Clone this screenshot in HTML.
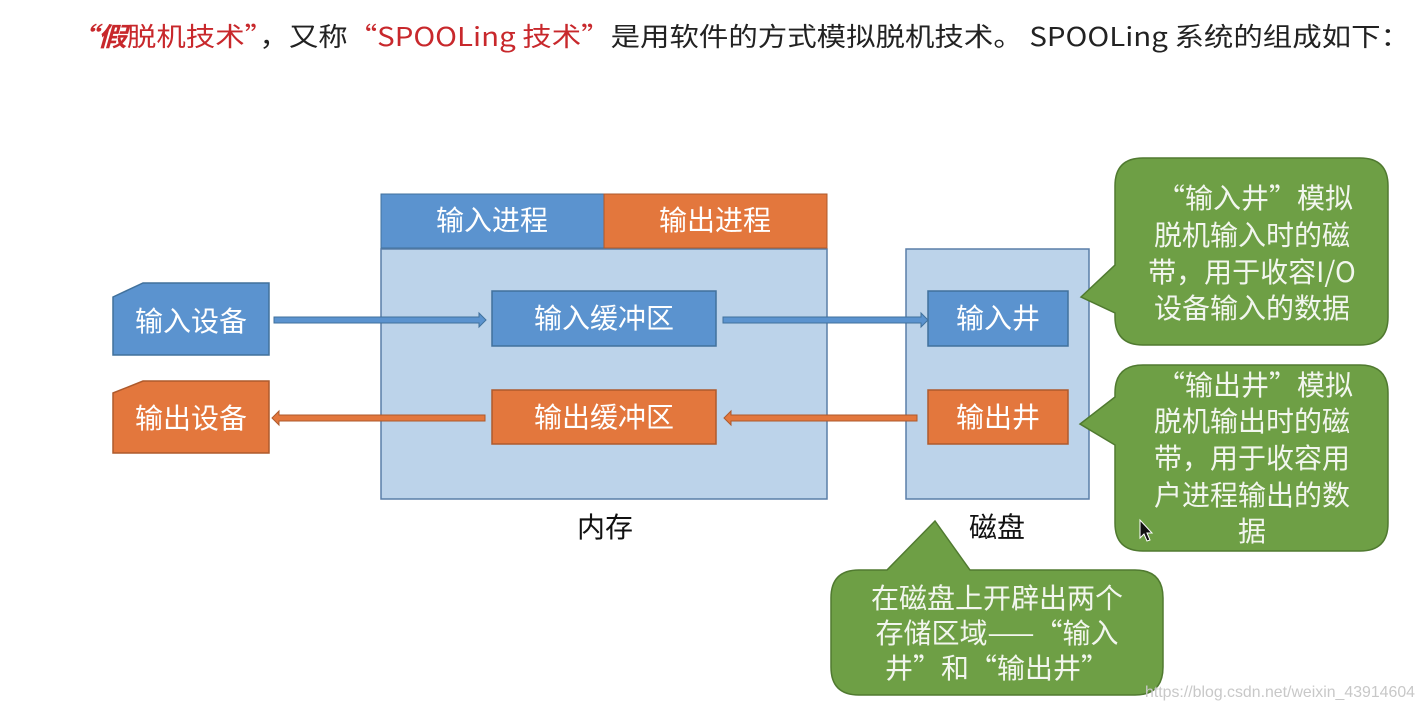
<!DOCTYPE html>
<html><head><meta charset="utf-8"><style>
html,body{margin:0;padding:0;background:#fff;width:1426px;height:712px;overflow:hidden}
svg{display:block}
text{font-family:"Liberation Sans","Noto Sans CJK SC",sans-serif}
.cjk, .cjk text{font-family:"Noto Sans CJK SC","Liberation Sans",sans-serif}
</style></head><body>
<svg width="1426" height="712" viewBox="0 0 1426 712">
<text class="cjk" x="68" y="46" font-size="26" fill="#222" textLength="1342" lengthAdjust="spacingAndGlyphs"><tspan fill="#c8282c" font-style="italic" font-weight="bold">“假</tspan><tspan fill="#c8282c">脱机技术”</tspan>，又称<tspan fill="#c8282c">“SPOOLing 技术”</tspan>是用软件的方式模拟脱机技术。 SPOOLing 系统的组成如下：</text>

<!-- devices -->
<polygon points="113,297 143,283 269,283 269,355 113,355" fill="#5b93cf" stroke="#41719c" stroke-width="1.5"/>
<text x="191" y="331" font-size="28" fill="#fff" text-anchor="middle">输入设备</text>
<polygon points="113,393 143,381 269,381 269,453 113,453" fill="#e3773d" stroke="#ae5a2c" stroke-width="1.5"/>
<text x="191" y="428" font-size="28" fill="#fff" text-anchor="middle">输出设备</text>

<!-- memory -->
<rect x="381" y="249" width="446" height="250" fill="#bcd3ea" stroke="#5a7ea8" stroke-width="1.5"/>
<rect x="381" y="194" width="223" height="54" fill="#5b93cf" stroke="#41719c" stroke-width="1"/>
<rect x="604" y="194" width="223" height="54" fill="#e3773d" stroke="#ae5a2c" stroke-width="1"/>
<text x="492" y="230" font-size="28" fill="#fff" text-anchor="middle">输入进程</text>
<text x="715" y="230" font-size="28" fill="#fff" text-anchor="middle">输出进程</text>
<rect x="492" y="291" width="224" height="55" fill="#5b93cf" stroke="#41719c" stroke-width="1.5"/>
<text x="604" y="328" font-size="28" fill="#fff" text-anchor="middle">输入缓冲区</text>
<rect x="492" y="390" width="224" height="54" fill="#e3773d" stroke="#ae5a2c" stroke-width="1.5"/>
<text x="604" y="427" font-size="28" fill="#fff" text-anchor="middle">输出缓冲区</text>
<text x="605" y="537" font-size="28" fill="#111" text-anchor="middle">内存</text>

<!-- disk -->
<rect x="906" y="249" width="183" height="250" fill="#bcd3ea" stroke="#5a7ea8" stroke-width="1.5"/>
<rect x="928" y="291" width="140" height="55" fill="#5b93cf" stroke="#41719c" stroke-width="1.5"/>
<text x="998" y="328" font-size="28" fill="#fff" text-anchor="middle">输入井</text>
<rect x="928" y="390" width="140" height="54" fill="#e3773d" stroke="#ae5a2c" stroke-width="1.5"/>
<text x="998" y="427" font-size="28" fill="#fff" text-anchor="middle">输出井</text>
<text x="997" y="537" font-size="28" fill="#111" text-anchor="middle">磁盘</text>

<!-- arrows -->
<polygon points="274,317 479,317 479,313 486,320 479,327 479,323 274,323" fill="#5b93cf" stroke="#41719c" stroke-width="1"/>
<polygon points="723,317 921,317 921,313 928,320 921,327 921,323 723,323" fill="#5b93cf" stroke="#41719c" stroke-width="1"/>
<polygon points="485,415 279,415 279,411 272,418 279,425 279,421 485,421" fill="#e3773d" stroke="#ae5a2c" stroke-width="1"/>
<polygon points="917,415 731,415 731,411 724,418 731,425 731,421 917,421" fill="#e3773d" stroke="#ae5a2c" stroke-width="1"/>

<!-- callouts -->
<path d="M1143,158 H1360 Q1388,158 1388,186 V317 Q1388,345 1360,345 H1143 Q1115,345 1115,317 V313 L1081,297 L1115,265 V186 Q1115,158 1143,158 Z" fill="#6e9f45" stroke="#507a30" stroke-width="1.5"/>
<g class="cjk" font-size="28" fill="#f2f6ee" text-anchor="middle">
<text x="1255" y="208">“输入井”模拟</text>
<text x="1252" y="245">脱机输入时的磁</text>
<text x="1252" y="282">带，用于收容I/O</text>
<text x="1252" y="318">设备输入的数据</text>
</g>
<path d="M1143,365 H1360 Q1388,365 1388,393 V523 Q1388,551 1360,551 H1143 Q1115,551 1115,523 V445 L1080,424 L1115,397 V393 Q1115,365 1143,365 Z" fill="#6e9f45" stroke="#507a30" stroke-width="1.5"/>
<g class="cjk" font-size="28" fill="#f2f6ee" text-anchor="middle">
<text x="1255" y="395">“输出井”模拟</text>
<text x="1252" y="431">脱机输出时的磁</text>
<text x="1252" y="468">带，用于收容用</text>
<text x="1252" y="505">户进程输出的数</text>
<text x="1252" y="541">据</text>
</g>
<path d="M859,570 H887 L935,521 L970,570 H1135 Q1163,570 1163,598 V667 Q1163,695 1135,695 H859 Q831,695 831,667 V598 Q831,570 859,570 Z" fill="#6e9f45" stroke="#507a30" stroke-width="1.5"/>
<g class="cjk" font-size="28" fill="#f2f6ee" text-anchor="middle">
<text x="997" y="608">在磁盘上开辟出两个</text>
<text x="997" y="643">存储区域——“输入</text>
<text x="997" y="678">井”和“输出井”</text>
</g>
<polygon points="1140,520 1140,538 1144,534 1147,541 1150,540 1147,533 1152,533" fill="#111" stroke="#fff" stroke-width="1"/>
<text x="1145" y="697" font-size="16" fill="#c8c8c8" textLength="270" lengthAdjust="spacingAndGlyphs">https://blog.csdn.net/weixin_43914604</text>
</svg>
</body></html>
